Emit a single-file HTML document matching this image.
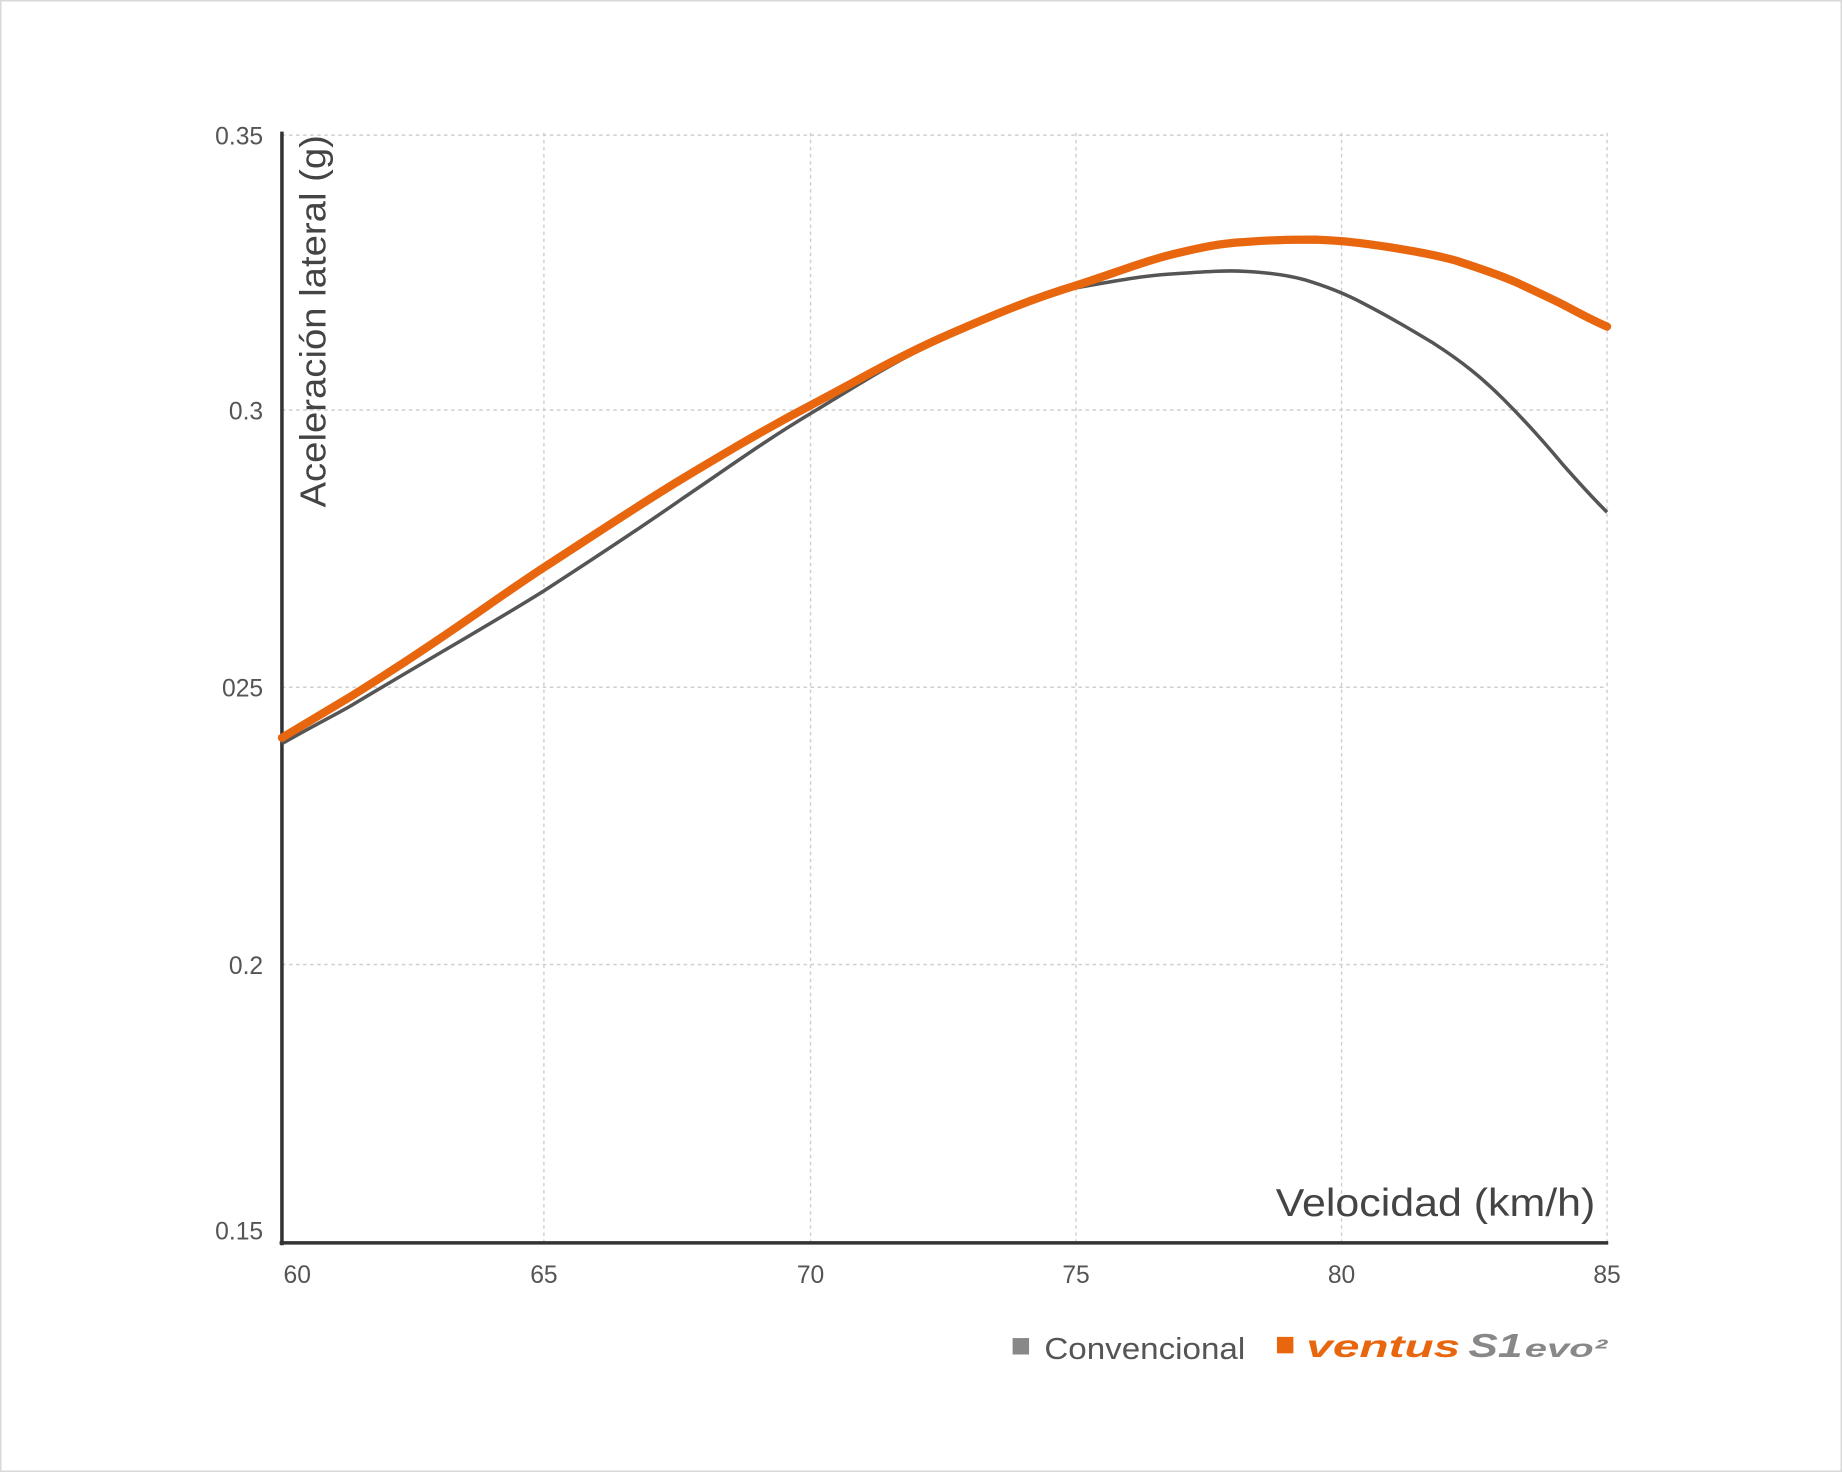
<!DOCTYPE html>
<html><head><meta charset="utf-8"><style>
html,body{margin:0;padding:0;background:#fff;}
svg{display:block;}
text{font-family:"Liberation Sans",sans-serif;}
</style></head><body>
<svg width="1842" height="1472" viewBox="0 0 1568 1253" xmlns="http://www.w3.org/2000/svg">
<rect x="0.5" y="0.5" width="1567" height="1252" fill="#fff" stroke="#d8d8d8" stroke-width="1.5"/>
<g stroke="#cfcfcf" stroke-width="1.2" stroke-dasharray="3,3" fill="none">
<line x1="240" y1="115" x2="1368" y2="115"/>
<line x1="240" y1="349" x2="1368" y2="349"/>
<line x1="240" y1="585" x2="1368" y2="585"/>
<line x1="240" y1="821" x2="1368" y2="821"/>
<line x1="463" y1="113" x2="463" y2="1058"/>
<line x1="690" y1="113" x2="690" y2="1058"/>
<line x1="916" y1="113" x2="916" y2="1058"/>
<line x1="1142" y1="113" x2="1142" y2="1058"/>
<line x1="1368" y1="113" x2="1368" y2="1058"/>
</g>
<line x1="240" y1="112" x2="240" y2="1060" stroke="#333" stroke-width="3"/>
<line x1="238" y1="1058" x2="1369" y2="1058" stroke="#333" stroke-width="3"/>
<g fill="#555" font-size="21" text-anchor="end">
<text x="224" y="123">0.35</text>
<text x="224" y="357">0.3</text>
<text x="224" y="593">025</text>
<text x="224" y="829">0.2</text>
<text x="224" y="1055">0.15</text>
</g>
<g fill="#555" font-size="21" text-anchor="middle">
<text x="253" y="1092">60</text>
<text x="463" y="1092">65</text>
<text x="690" y="1092">70</text>
<text x="916" y="1092">75</text>
<text x="1142" y="1092">80</text>
<text x="1368" y="1092">85</text>
</g>
<text transform="translate(277,432) rotate(-90)" fill="#444" font-size="31" textLength="317" lengthAdjust="spacingAndGlyphs">Aceleración lateral (g)</text>
<text x="1086" y="1035" fill="#444" font-size="33" textLength="272" lengthAdjust="spacingAndGlyphs">Velocidad (km/h)</text>
<path d="M240,633 C270,616 290,606 300,600 C380,552 420,530 463,503 C520,466 550,446 580,425 C620,398 650,376 690,352 C730,328 760,308 800,290 C850,266 880,252 916,245 C960,237 980,234 1000,233 C1030,231 1045,230 1060,231 C1080,232 1095,234 1110,238 C1130,244 1145,250 1160,258 C1185,271 1200,280 1220,292 C1245,308 1262,322 1280,340 C1300,360 1315,377 1330,395 C1345,412 1356,424 1368,436" fill="none" stroke="#555" stroke-width="3"/>
<path d="M240,628 C270,610 285,601 300,592 C380,542 420,511 463,483 C520,446 550,426 580,408 C620,384 650,366 690,345 C730,324 760,306 800,288 C850,266 880,254 916,243 C950,232 975,222 1000,216 C1025,210 1040,207 1060,206 C1085,204 1100,204 1120,204 C1145,205 1160,207 1180,210 C1205,214 1222,217 1240,222 C1258,228 1274,233 1290,240 C1305,247 1318,253 1330,259 C1345,267 1356,273 1368,278" fill="none" stroke="#e8660e" stroke-width="7" stroke-linecap="round"/>
<rect x="862" y="1139" width="14" height="14" fill="#888"/>
<text x="889" y="1157" fill="#555" font-size="26" textLength="171" lengthAdjust="spacingAndGlyphs">Convencional</text>
<rect x="1087" y="1138" width="14" height="14" fill="#e8660e"/>
<text x="1112" y="1155" fill="#e8660e" font-size="27" font-weight="bold" font-style="italic" textLength="131" lengthAdjust="spacingAndGlyphs">ventus</text>
<text x="1250" y="1155" fill="#888" font-size="28" font-weight="bold" font-style="italic" textLength="46" lengthAdjust="spacingAndGlyphs">S1</text>
<text x="1298" y="1155" fill="#888" font-size="21" font-weight="bold" font-style="italic" textLength="70" lengthAdjust="spacingAndGlyphs">evo²</text>
</svg>
</body></html>
